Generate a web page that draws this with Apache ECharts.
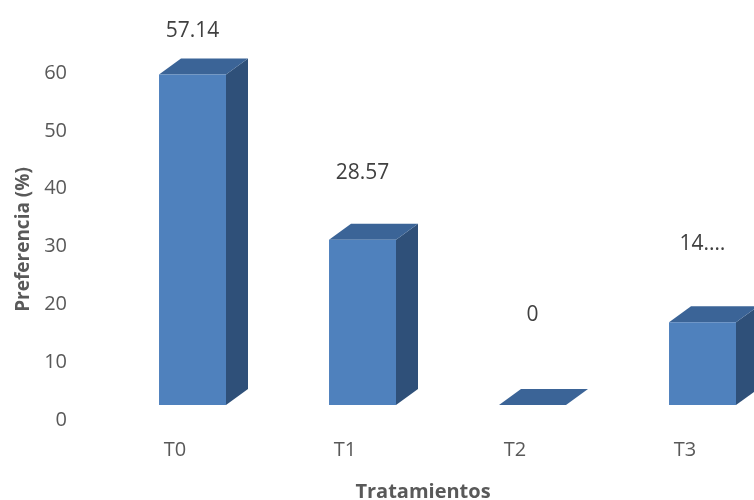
<!DOCTYPE html>
<html>
<head>
<meta charset="utf-8">
<script src="https://cdn.jsdelivr.net/npm/echarts@6/dist/echarts.min.js"></script>
<style>
  html, body { margin: 0; padding: 0; background: #ffffff; }
  #chart { width: 754px; height: 500px; }
</style>
</head>
<body>
<div id="chart"></div>
<script>
// Preferencia por tratamiento (%)
const categories = ['T0', 'T1', 'T2', 'T3'];
const preferencia = [57.14, 28.57, 0, 14.29];
const yMin = 0;
const yMax = 60;
const yStep = 10;

const FONT = '"Open Sans", "Liberation Sans", sans-serif';
const FRONT = '#4f81bd';
const TOP = '#3b6497';
const SIDE = '#2f5079';

// Pseudo-3D column: front face, top face and right side face
function renderColumn(params, api) {
  const i = api.value(0);
  const v = api.value(1);
  const base = api.coord([i, 0]);
  const head = api.coord([i, v]);
  const band = api.size([1, 0])[0];

  const w = band * 0.394;
  const left = base[0] - band * 0.094;
  const lift = 15;               // floor sits slightly above the axis baseline
  const dx = 22, dy = -16;       // depth offset of the back faces
  const yb = base[1] - lift;
  const yt = head[1] - lift;

  const W = api.getWidth();
  const cx = left + w / 2;
  const labelY = api.coord([i, v * 0.86])[1] - 105;
  const room = Math.min(140, 2 * (W - cx) - 50);

  return {
    type: 'group',
    children: [
      {
        type: 'polygon',
        shape: { points: [[left + w, yt], [left + w + dx, yt + dy], [left + w + dx, yb + dy], [left + w, yb]] },
        style: { fill: SIDE }
      },
      {
        type: 'polygon',
        shape: { points: [[left, yt], [left + w, yt], [left + w + dx, yt + dy], [left + dx, yt + dy]] },
        style: { fill: TOP }
      },
      {
        type: 'rect',
        shape: { x: left, y: yt, width: w, height: Math.max(0, yb - yt) },
        style: { fill: FRONT }
      },
      {
        type: 'text',
        x: cx,
        y: labelY,
        style: {
          text: String(v),
          fill: '#404040',
          font: '21px ' + FONT,
          align: 'center',
          verticalAlign: 'middle',
          width: room,
          overflow: 'truncate',
          ellipsis: '…'
        }
      }
    ]
  };
}

const chart = echarts.init(document.getElementById('chart'), null, { renderer: 'canvas' });

chart.setOption({
  animation: false,
  backgroundColor: '#ffffff',
  grid: { left: 90, top: 73, bottom: 80, width: 680, outerBoundsMode: 'none', containLabel: false },
  xAxis: {
    type: 'category',
    data: categories,
    boundaryGap: true,
    axisLine: { show: false },
    axisTick: { show: false },
    axisLabel: { color: '#595959', fontSize: 20, fontFamily: FONT, margin: 20 },
    name: 'Tratamientos',
    nameLocation: 'middle',
    nameGap: 62,
    nameTextStyle: { color: '#595959', fontSize: 20, fontWeight: 'bold', fontFamily: FONT, padding: [0, 14, 0, 0] }
  },
  yAxis: {
    type: 'value',
    min: yMin,
    max: yMax,
    interval: yStep,
    axisLine: { show: false },
    axisTick: { show: false },
    splitLine: { show: false },
    axisLabel: { color: '#595959', fontSize: 20, fontFamily: FONT, margin: 23 },
    name: 'Preferencia (%)',
    nameLocation: 'middle',
    nameGap: 40,
    nameTextStyle: { color: '#595959', fontSize: 19, fontWeight: 'bold', fontFamily: FONT, padding: [0, 0, 0, 14] }
  },
  series: [{
    type: 'custom',
    renderItem: renderColumn,
    clip: false,
    encode: { x: 0, y: 1 },
    data: categories.map((c, i) => [i, preferencia[i]])
  }]
});
</script>
</body>
</html>
